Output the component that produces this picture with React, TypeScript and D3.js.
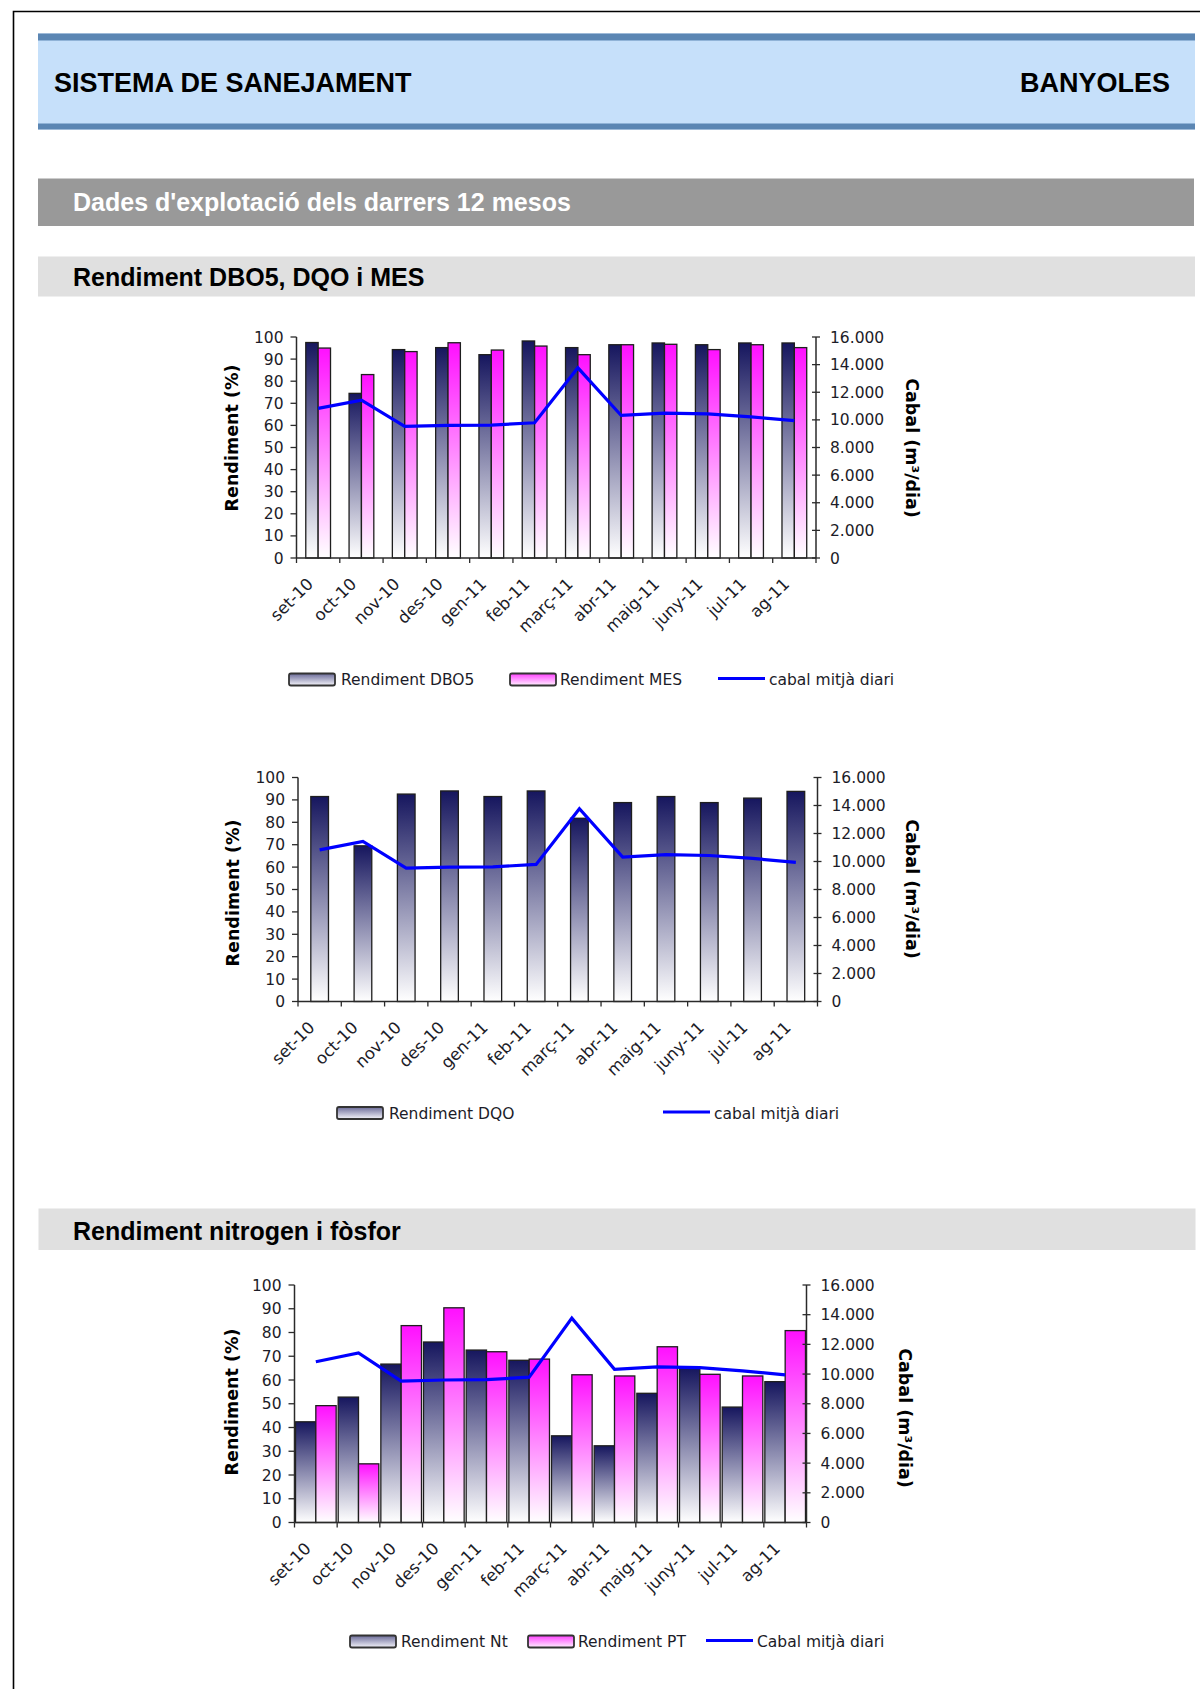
import React from "react";
import * as d3 from "d3";

// ---------- DATA ----------
const months = ["set-10", "oct-10", "nov-10", "des-10", "gen-11", "feb-11", "març-11", "abr-11", "maig-11", "juny-11", "jul-11", "ag-11"];
const cabalMitja = [10830, 11430, 9530, 9600, 9620, 9790, 13770, 10320, 10490, 10430, 10220, 9940];
const rendDBO5 = [97.5, 74.5, 94.3, 95.2, 92, 98.2, 95.2, 96.5, 97.3, 96.5, 97.3, 97.3];
const rendMES = [95, 83, 93.4, 97.4, 94.1, 95.9, 92, 96.5, 96.7, 94.3, 96.5, 95.2];
const rendDQO = [91.5, 69.5, 92.6, 94, 91.5, 94, 81.8, 88.8, 91.5, 88.8, 90.8, 93.8];
const rendNt = [42.4, 52.8, 66.7, 76, 72.6, 68.3, 36.5, 32.3, 54.4, 64.9, 48.6, 59.3];
const rendPT = [49.2, 24.7, 82.9, 90.4, 71.9, 68.8, 62.2, 61.7, 74, 62.4, 61.7, 80.8];
const leftTicks = [0, 10, 20, 30, 40, 50, 60, 70, 80, 90, 100];
const rightTicks = [0, 2000, 4000, 6000, 8000, 10000, 12000, 14000, 16000];

const fmtThousands = d3
  .formatLocale({ decimal: ",", thousands: ".", grouping: [3], currency: ["", ""] })
  .format(",");

const CHART_FONT = "'DejaVu Sans', Verdana, sans-serif";
const HEAD_FONT = "'Liberation Sans', Arial, Helvetica, sans-serif";

type Series = { key: string; label: string; values: number[]; grad: string };
type LegendItem = { kind: "bar" | "line"; x: number; tx: number; label: string; grad?: string };
type ChartCfg = {
  id: string;
  left: number;
  right: number;
  top: number;
  bottom: number;
  gap: number;
  series: Series[];
  legendY: number;
  legend: LegendItem[];
  lTitleX: number;
  lTitleY: number;
  rTitleX: number;
  rTitleY: number;
};

function Chart({ cfg }: { cfg: ChartCfg }) {
  const { left, right, top, bottom, gap, series } = cfg;
  const x0 = d3.scaleBand<string>().domain(months).range([left, right]).padding(0);
  const bw = x0.bandwidth();
  const x1 = d3
    .scaleBand<string>()
    .domain(series.map((s) => s.key))
    .range([0, bw])
    .paddingInner(0)
    .paddingOuter(gap / 2);
  const yL = d3.scaleLinear().domain([0, 100]).range([bottom, top]);
  const yR = d3.scaleLinear().domain([0, 16000]).range([bottom, top]);
  const line = d3
    .line<number>()
    .x((_, i) => (x0(months[i]) as number) + bw / 2)
    .y((d) => yR(d));
  const axisColor = "#2a2a2a";
  const textColor = "#1c1c28";

  return (
    <g>
      {/* bars */}
      {series.map((s) =>
        s.values.map((v, i) => (
          <rect
            key={s.key + i}
            x={(x0(months[i]) as number) + (x1(s.key) as number)}
            y={yL(v)}
            width={x1.bandwidth()}
            height={yL(0) - yL(v)}
            fill={`url(#${s.grad})`}
            stroke="#1e1e1e"
            strokeWidth={1.3}
          />
        ))
      )}
      {/* left axis */}
      <line x1={left} x2={left} y1={yL(100)} y2={yL(0)} stroke={axisColor} strokeWidth={1.5} />
      {leftTicks.map((t) => (
        <g key={"l" + t}>
          <line x1={left - 6} x2={left} y1={yL(t)} y2={yL(t)} stroke={axisColor} strokeWidth={1.3} />
          <text x={left - 13} y={yL(t) + 5.5} textAnchor="end" fontFamily={CHART_FONT} fontSize={15.5} fill={textColor}>
            {t}
          </text>
        </g>
      ))}
      {/* right axis */}
      <line x1={right} x2={right} y1={yR(16000)} y2={yR(0)} stroke={axisColor} strokeWidth={1.5} />
      {rightTicks.map((t) => (
        <g key={"r" + t}>
          <line x1={right - 4} x2={right + 4} y1={yR(t)} y2={yR(t)} stroke={axisColor} strokeWidth={1.3} />
          <text x={right + 14} y={yR(t) + 5.5} textAnchor="start" fontFamily={CHART_FONT} fontSize={15.5} fill={textColor}>
            {fmtThousands(t)}
          </text>
        </g>
      ))}
      {/* bottom axis */}
      <line x1={left} x2={right} y1={bottom} y2={bottom} stroke={axisColor} strokeWidth={1.5} />
      {d3.range(months.length + 1).map((i) => (
        <line
          key={"bt" + i}
          x1={left + i * bw}
          x2={left + i * bw}
          y1={bottom}
          y2={bottom + 5}
          stroke={axisColor}
          strokeWidth={1.3}
        />
      ))}
      {months.map((m) => {
        const cx = (x0(m) as number) + bw / 2 - 4;
        const cy = bottom + 27;
        return (
          <text
            key={"xl" + m}
            transform={`translate(${cx},${cy}) rotate(-45)`}
            textAnchor="end"
            fontFamily={CHART_FONT}
            fontSize={16.5}
            fill={textColor}
          >
            {m}
          </text>
        );
      })}
      {/* line */}
      <path d={line(cabalMitja) || ""} fill="none" stroke="#0000ff" strokeWidth={3.2} />
      {/* axis titles */}
      <text
        transform={`translate(${cfg.lTitleX},${cfg.lTitleY}) rotate(-90)`}
        textAnchor="middle"
        fontFamily={CHART_FONT}
        fontWeight="bold"
        fontSize={17.5}
        fill="#000"
      >
        Rendiment (%)
      </text>
      <text
        transform={`translate(${cfg.rTitleX},${cfg.rTitleY}) rotate(90)`}
        textAnchor="middle"
        fontFamily={CHART_FONT}
        fontWeight="bold"
        fontSize={17.5}
        fill="#000"
      >
        Cabal (m³/dia)
      </text>
      {/* legend */}
      {cfg.legend.map((it, i) => (
        <g key={"lg" + i}>
          {it.kind === "bar" ? (
            <rect
              x={it.x}
              y={cfg.legendY - 6}
              width={46}
              height={12}
              rx={2}
              fill={`url(#${it.grad})`}
              stroke="#333"
              strokeWidth={1.8}
            />
          ) : (
            <line x1={it.x} x2={it.x + 47} y1={cfg.legendY - 1} y2={cfg.legendY - 1} stroke="#0000ff" strokeWidth={3.2} />
          )}
          <text x={it.tx} y={cfg.legendY + 5.5} fontFamily={CHART_FONT} fontSize={15.5} fill={textColor}>
            {it.label}
          </text>
        </g>
      ))}
    </g>
  );
}

const chart1: ChartCfg = {
  id: "c1",
  left: 296.5,
  right: 816,
  top: 337,
  bottom: 558,
  gap: 1.5,
  series: [
    { key: "dbo5", label: "Rendiment DBO5", values: rendDBO5, grad: "gNavy" },
    { key: "mes", label: "Rendiment MES", values: rendMES, grad: "gPink" },
  ],
  legendY: 679.5,
  legend: [
    { kind: "bar", x: 289, tx: 341, label: "Rendiment DBO5", grad: "gNavyL" },
    { kind: "bar", x: 510, tx: 560, label: "Rendiment MES", grad: "gPinkL" },
    { kind: "line", x: 718, tx: 769, label: "cabal mitjà diari" },
  ],
  lTitleX: 238,
  lTitleY: 438,
  rTitleX: 906,
  rTitleY: 448,
};

const chart2: ChartCfg = {
  id: "c2",
  left: 298,
  right: 817.5,
  top: 777.5,
  bottom: 1001.5,
  gap: 1.45,
  series: [{ key: "dqo", label: "Rendiment DQO", values: rendDQO, grad: "gNavy" }],
  legendY: 1113,
  legend: [
    { kind: "bar", x: 337, tx: 389, label: "Rendiment DQO", grad: "gNavyL" },
    { kind: "line", x: 663, tx: 714, label: "cabal mitjà diari" },
  ],
  lTitleX: 239,
  lTitleY: 893,
  rTitleX: 906,
  rTitleY: 889,
};

const chart3: ChartCfg = {
  id: "c3",
  left: 294.5,
  right: 806.5,
  top: 1285,
  bottom: 1522.5,
  gap: 0.1,
  series: [
    { key: "nt", label: "Rendiment Nt", values: rendNt, grad: "gNavy" },
    { key: "pt", label: "Rendiment PT", values: rendPT, grad: "gPink" },
  ],
  legendY: 1641.5,
  legend: [
    { kind: "bar", x: 350, tx: 401, label: "Rendiment Nt", grad: "gNavyL" },
    { kind: "bar", x: 528, tx: 578, label: "Rendiment PT", grad: "gPinkL" },
    { kind: "line", x: 706, tx: 757, label: "Cabal mitjà diari" },
  ],
  lTitleX: 238,
  lTitleY: 1402,
  rTitleX: 899,
  rTitleY: 1418,
};

export default function App() {
  return (
    <div style={{ position: "absolute", left: 0, top: 0, width: 1200, height: 1689, background: "#fff" }}>
      <svg width={1200} height={1689} viewBox="0 0 1200 1689" style={{ display: "block" }}>
        <defs>
          <linearGradient id="gNavy" x1="0" y1="0" x2="0" y2="1">
            <stop offset="0" stopColor="#16165e" />
            <stop offset="1" stopColor="#ffffff" />
          </linearGradient>
          <linearGradient id="gPink" x1="0" y1="0" x2="0" y2="1">
            <stop offset="0" stopColor="#ff10ff" />
            <stop offset="1" stopColor="#ffffff" />
          </linearGradient>
          <linearGradient id="gNavyL" x1="0" y1="0" x2="0" y2="1">
            <stop offset="0" stopColor="#6a6a98" />
            <stop offset="1" stopColor="#f4f4fa" />
          </linearGradient>
          <linearGradient id="gPinkL" x1="0" y1="0" x2="0" y2="1">
            <stop offset="0" stopColor="#ff40ff" />
            <stop offset="1" stopColor="#fff0ff" />
          </linearGradient>
        </defs>
        <rect x={0} y={0} width={1200} height={1689} fill="#fff" />
        {/* page frame */}
        <path d="M13.5,1689 V11.5 H1200" fill="none" stroke="#000" strokeWidth={1.6} />

        {/* header band */}
        <rect x={38} y={33.5} width={1157} height={96} fill="#c6e0fa" />
        <rect x={38} y={33.5} width={1157} height={7} fill="#5b86b3" />
        <rect x={38} y={123.5} width={1157} height={6} fill="#5b86b3" />
        <text x={54} y={92} fontFamily={HEAD_FONT} fontWeight="bold" fontSize={27} fill="#000">
          SISTEMA DE SANEJAMENT
        </text>
        <text x={1170} y={92} textAnchor="end" fontFamily={HEAD_FONT} fontWeight="bold" fontSize={27} fill="#000">
          BANYOLES
        </text>

        {/* grey band */}
        <rect x={38} y={178.5} width={1156} height={47.5} fill="#999999" />
        <text x={73} y={211} fontFamily={HEAD_FONT} fontWeight="bold" fontSize={25} fill="#fff">
          Dades d'explotació dels darrers 12 mesos
        </text>

        {/* section 1 */}
        <rect x={38} y={256.5} width={1157} height={40} fill="#e0e0e0" />
        <text x={73} y={286} fontFamily={HEAD_FONT} fontWeight="bold" fontSize={25} fill="#000">
          Rendiment DBO5, DQO i MES
        </text>

        <Chart cfg={chart1} />
        <Chart cfg={chart2} />

        {/* section 2 */}
        <rect x={38.5} y={1208.5} width={1157} height={41.5} fill="#e0e0e0" />
        <text x={73} y={1240} fontFamily={HEAD_FONT} fontWeight="bold" fontSize={25} fill="#000">
          Rendiment nitrogen i fòsfor
        </text>

        <Chart cfg={chart3} />
      </svg>
    </div>
  );
}
